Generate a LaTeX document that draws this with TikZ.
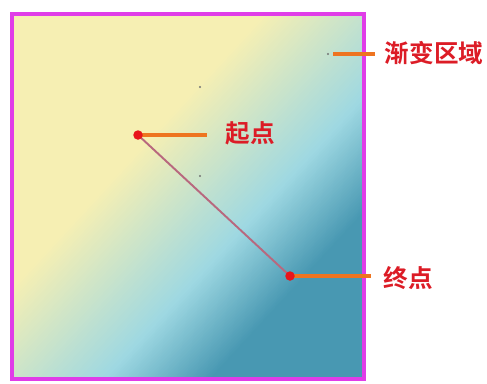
\documentclass[tikz,border=0pt]{standalone}
\usepackage{fontspec}
\newfontfamily\cjk{Noto Sans CJK SC}[BoldFont={Noto Sans CJK SC Bold}]
\usetikzlibrary{calc,positioning}

\definecolor{gradyellow}{HTML}{F6EFB3}
\definecolor{gradblue}{HTML}{9ED8E2}
\definecolor{gradteal}{HTML}{4898B2}
\definecolor{framepink}{HTML}{E03CE8}
\definecolor{linkmauve}{HTML}{B8687E}
\definecolor{leaderorange}{HTML}{EE7420}
\definecolor{dotred}{HTML}{E8141A}
\definecolor{labelred}{HTML}{DC1C26}

\begin{document}
\begin{tikzpicture}[
    x=0.02cm, y=-0.02cm,
    frame/.style={draw=framepink, line width=1.9pt},
    gradline/.style={draw=linkmauve, line width=1.1pt},
    leader/.style={draw=leaderorange, line width=2pt},
    endpoint/.style={circle, fill=dotred, inner sep=0pt, minimum size=0.19cm},
    speck/.style={fill=black!55},
    tag/.style={text=labelred, font=\cjk\bfseries\fontsize{14}{14}\selectfont, inner sep=0pt}
  ]
  \useasboundingbox (0,0) rectangle (487,383);

  % Punti
  \coordinate (qidian) at (138,135);
  \coordinate (zhongdian) at (290,276);
  \coordinate (quyu) at (333,54);

  % Sfumatura
  \begin{scope}
    \clip (12,14) rectangle (364,379);
    \fill[gradyellow] (12,14) rectangle (364,379);
    \begin{scope}[shift={(qidian)}, rotate=-42.65]
      \foreach \u in {10,12,...,138} {
        \pgfmathsetmacro\p{100*(\u-10)/130}
        \fill[gradblue!\p!gradyellow] (\u,-400) rectangle (\u+2.6,400);
      }
      \foreach \u in {140,142,...,218} {
        \pgfmathsetmacro\p{100*(\u-140)/78}
        \fill[gradteal!\p!gradblue] (\u,-400) rectangle (\u+2.6,400);
      }
      \fill[gradteal] (220,-400) rectangle (700,400);
    \end{scope}
  \end{scope}
  \draw[frame] (12,14) rectangle (364,379);

  \fill[speck] (200,87) circle (0.6pt);
  \fill[speck] (200,176) circle (0.6pt);
  \fill[speck] (328,54) circle (0.6pt);

  % Etichette
  \node[tag] (qidiantag) at (250,133) {起点};
  \node[tag] (zhongdiantag) at (408,278) {终点};
  \node[tag] (quyutag) at (434,53) {渐变区域};

  % Collegamenti
  \draw[gradline] (qidian) -- (zhongdian);
  \draw[leader, shorten >=0.36cm] (qidian) -- (qidiantag.west |- qidian);
  \draw[leader, shorten >=0.24cm] (zhongdian) -- (zhongdiantag.west |- zhongdian);
  \draw[leader, shorten >=0.18cm] (quyu) -- (quyutag.west |- quyu);

  \node[endpoint] (qidiandot) at (qidian) {};
  \node[endpoint] (zhongdiandot) at (zhongdian) {};
\end{tikzpicture}
\end{document}
